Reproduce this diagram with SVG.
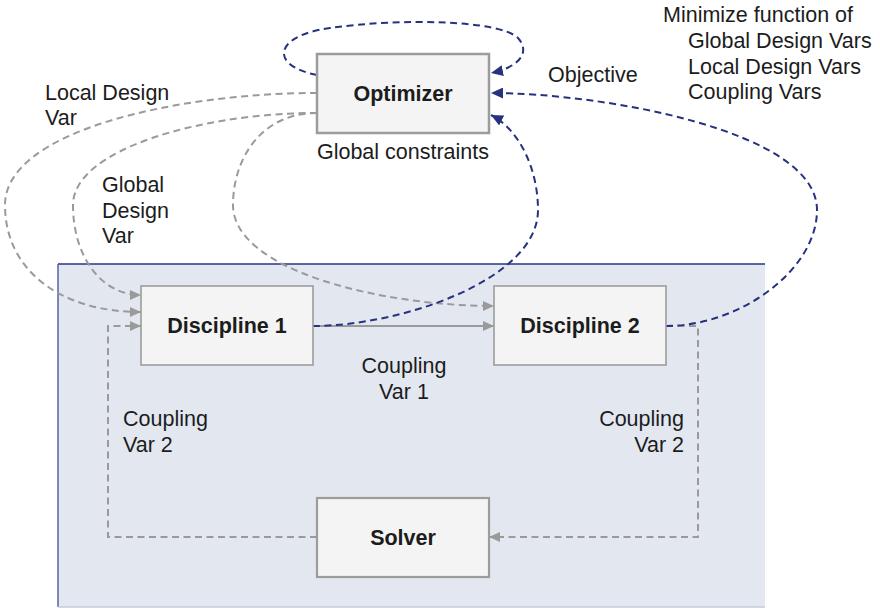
<svg xmlns="http://www.w3.org/2000/svg" width="880" height="608" viewBox="0 0 880 608">
  <style>
    .txt { font-family: "Liberation Sans", Arial, Helvetica, sans-serif; font-size: 21.5px; fill: #1c1c1c; }
    .lbl { font-family: "Liberation Sans", Arial, Helvetica, sans-serif; font-size: 21.5px; font-weight: bold; fill: #1c1c1c; text-anchor: middle; }
    .box { fill: #f4f4f4; stroke: #9c9c9c; }
    .gray { fill: none; stroke: #9a9a9a; stroke-width: 2; stroke-dasharray: 7 4.5; }
    .graysolid { fill: none; stroke: #9a9a9a; stroke-width: 2; }
    .blue { fill: none; stroke: #27327f; stroke-width: 2; stroke-dasharray: 7 4.5; }
  </style>
  <defs>
    <marker id="arrGray" markerUnits="userSpaceOnUse" markerWidth="11" markerHeight="10" refX="11" refY="5" orient="auto">
      <path d="M0,0 L11,5 L0,10 z" fill="#9a9a9a"/>
    </marker>
    <marker id="arrBlue" markerUnits="userSpaceOnUse" markerWidth="12" markerHeight="11" refX="12" refY="5.5" orient="auto">
      <path d="M0,0 L12,5.5 L0,11 z" fill="#27327f"/>
    </marker>
  </defs>

  <rect width="880" height="608" fill="#ffffff"/>

  <!-- system panel -->
  <g id="panel">
    <rect x="58" y="264" width="707" height="343" fill="#e3e8f0"/>
    <line x1="58" y1="264" x2="765" y2="264" stroke="#2b3385" stroke-width="1.5"/>
    <line x1="58" y1="264" x2="58" y2="607" stroke="#5560aa" stroke-width="1.5"/>
    <line x1="58" y1="607" x2="765" y2="607" stroke="#c6cbd8" stroke-width="1.5"/>
  </g>

  <!-- connectors -->
  <g id="connectors">
    <!-- design variables from the optimizer -->
    <path class="gray" d="M317,93 C180,93 5,130 5,205 C5,270 60,312 141,312" marker-end="url(#arrGray)"/>
    <path class="gray" d="M317,113 C200,113 73,150 73,205 C73,255 100,295 141,295" marker-end="url(#arrGray)"/>
    <path class="gray" d="M317,113 C260,113 233,160 233,205 C233,270 380,306 494,306" marker-end="url(#arrGray)"/>
    <!-- coupling variables -->
    <path class="graysolid" d="M313,326 L494,326" marker-end="url(#arrGray)"/>
    <path class="gray" d="M666,326 L698,326 L698,537 L489,537" marker-end="url(#arrGray)"/>
    <path class="gray" d="M317,537 L108,537 L108,326 L141,326" marker-end="url(#arrGray)"/>
    <!-- objective / constraint feedback -->
    <path class="blue" d="M317,75 C270,66 272,36 330,28 C400,18 500,20 518,38 C532,54 516,68 491,73" marker-end="url(#arrBlue)"/>
    <path class="blue" d="M666,326 C740,326 817,270 817,210 C817,130 600,93 491,93" marker-end="url(#arrBlue)"/>
    <path class="blue" d="M313,326 C400,326 538,280 538,210 C538,170 520,130 491,115" marker-end="url(#arrBlue)"/>
  </g>

  <g id="optimizer">
    <rect class="box" x="317" y="54" width="172" height="79" stroke-width="2.5"/>
    <text class="lbl" x="403" y="101">Optimizer</text>
  </g>

  <g id="discipline1">
    <rect class="box" x="141" y="286" width="172" height="79" stroke-width="1.6"/>
    <text class="lbl" x="227" y="333">Discipline 1</text>
  </g>

  <g id="discipline2">
    <rect class="box" x="494" y="286" width="172" height="79" stroke-width="1.6"/>
    <text class="lbl" x="580" y="333">Discipline 2</text>
  </g>

  <g id="solver">
    <rect class="box" x="317" y="498" width="172" height="79" stroke-width="2.2"/>
    <text class="lbl" x="403" y="545">Solver</text>
  </g>

  <!-- annotations -->
  <g id="labels">
    <text class="txt" x="403" y="159" text-anchor="middle">Global constraints</text>
    <text class="txt" x="548" y="82">Objective</text>
    <text class="txt" x="663" y="22">Minimize function of</text>
    <text class="txt" x="688" y="48">Global Design Vars</text>
    <text class="txt" x="688" y="74">Local Design Vars</text>
    <text class="txt" x="688" y="99">Coupling Vars</text>
    <text class="txt" x="45" y="100">Local Design</text>
    <text class="txt" x="45" y="125">Var</text>
    <text class="txt" x="102" y="192">Global</text>
    <text class="txt" x="102" y="218">Design</text>
    <text class="txt" x="102" y="243">Var</text>
    <text class="txt" x="404" y="373" text-anchor="middle">Coupling</text>
    <text class="txt" x="404" y="399" text-anchor="middle">Var 1</text>
    <text class="txt" x="123" y="426">Coupling</text>
    <text class="txt" x="123" y="452">Var 2</text>
    <text class="txt" x="684" y="426" text-anchor="end">Coupling</text>
    <text class="txt" x="684" y="452" text-anchor="end">Var 2</text>
  </g>
</svg>
